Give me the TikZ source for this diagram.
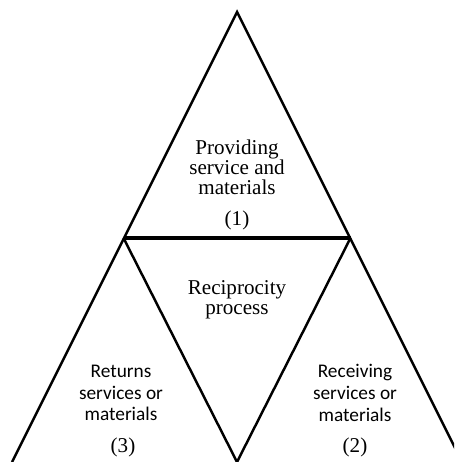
\documentclass[tikz,border=0pt]{standalone}
\usepackage{fontspec}
\setmainfont{Liberation Serif}
\newfontfamily\calibrifont{Carlito}
\usepackage{tikz}

\begin{document}
\begin{tikzpicture}[x=0.02cm, y=-0.02cm, line join=miter,
	edge/.style={line width=1.4pt},
	serif/.style={align=center, font=\fontsize{12}{11.5}\selectfont},
	sans/.style={align=center, font=\calibrifont\fontsize{11}{12.3}\selectfont}]
		\useasboundingbox (0,0) rectangle (454,462);
		\clip (0,0) rectangle (454,462);
		% corners
		\coordinate (top) at (237,12);
		\coordinate (ml) at (123.5,238);
		\coordinate (mr) at (350.5,238);
		\coordinate (bl) at (12,462);
		\coordinate (bm) at (237,462);
		\coordinate (br) at (462,462);
		\draw[edge] (bl) -- (top) -- (br);
		\draw[edge] (ml) -- (bm) -- (mr);
		\draw[line width=1.8pt] (ml) -- (mr);
		% texts
		\node[serif] (provide) at (237,167) {Providing\\service and\\materials};
		\node[serif] (one) at (237,220) {(1)};
		\node[serif] (recip) at (237,300) {Reciprocity\\process};
		\node[sans] (returns) at (121,393) {Returns\\services or\\materials};
		\node[serif] (three) at (123,447) {(3)};
		\node[sans] (receive) at (355,393) {Receiving\\services or\\materials};
		\node[serif] (two) at (355,447) {(2)};
	\end{tikzpicture}
\end{document}
